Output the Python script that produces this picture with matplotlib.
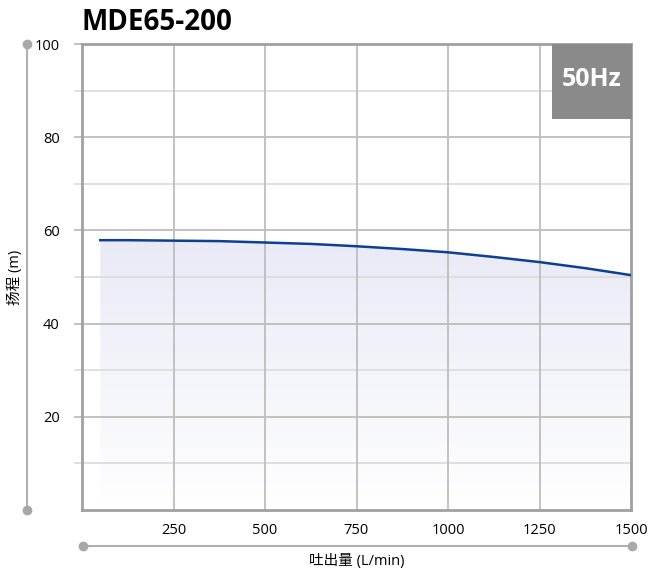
import numpy as np
import matplotlib.pyplot as plt
from matplotlib.patches import Rectangle
from matplotlib.lines import Line2D
from matplotlib.colors import LinearSegmentedColormap

plt.rcParams['font.family'] = ['Open Sans', 'Noto Sans CJK SC', 'DejaVu Sans']

# flow (L/min) vs head (m)
flow = [50, 125, 250, 375, 500, 625, 750, 875, 1000, 1125, 1250, 1375, 1500]
head = [57.9, 57.9, 57.8, 57.7, 57.4, 57.1, 56.6, 56.0, 55.3, 54.3, 53.2, 51.9, 50.4]
xticks = [250, 500, 750, 1000, 1250, 1500]
yticks = [20, 40, 60, 80, 100]

fig = plt.figure(figsize=(6.48, 5.70), dpi=100)
W, H = 648, 570
ax = fig.add_axes([82 / W, 1 - 510 / H, (631 - 82) / W, (510 - 44) / H])
ax.set_xlim(0, 1500)
ax.set_ylim(0, 100)

# grid
for y in [10, 30, 50, 70, 90]:
    ax.axhline(y, color='#dddddd', lw=1.3, zorder=1)
for y in yticks[:-1]:
    ax.axhline(y, color='#bdbdbd', lw=1.3, zorder=1)
for x in xticks[:-1]:
    ax.axvline(x, color='#bdbdbd', lw=1.3, zorder=1)

# gradient fill under curve (kept beneath the grid)
poly = ax.fill_between(flow, head, 0, color='none', zorder=0.5)
grad = np.linspace(0, 1, 256).reshape(-1, 1)
cmap = LinearSegmentedColormap.from_list('g', ['#ffffff', '#e9eaf6'])
img = ax.imshow(grad, extent=[0, 1500, 0, max(head)], origin='lower',
                cmap=cmap, aspect='auto', zorder=0.5)
img.set_clip_path(poly.get_paths()[0], transform=ax.transData)
ax.plot(flow, head, color='#0d3f94', lw=1.8, zorder=3)

for s in ax.spines.values():
    s.set_color('#a0a0a0')
    s.set_linewidth(2)
ax.set_xticks(xticks)
ax.set_yticks(yticks)
ax.tick_params(axis='x', length=0, pad=9, labelsize=10.5)
ax.tick_params(axis='y', which='both', length=0, pad=16, labelsize=10.5)

# left tick extensions
for y in [10, 20, 30, 40, 50, 60, 70, 80, 90, 100]:
    col = '#bdbdbd' if y % 20 == 0 else '#dddddd'
    ax.plot([-0.013 * 1500, 0], [y, y], color=col, lw=1.3, clip_on=False, zorder=1)

# outer axis lines with dots
fig.add_artist(Line2D([27 / W, 27 / W], [1 - 44 / H, 1 - 510 / H], color='#b0b0b0', lw=1.5))
fig.add_artist(Line2D([27 / W, 27 / W], [1 - 44 / H, 1 - 510 / H], color='#a8a8a8', lw=0,
                      marker='o', ms=6))
fig.add_artist(Line2D([83 / W, 632 / W], [1 - 546 / H, 1 - 546 / H], color='#b0b0b0', lw=1.5))
fig.add_artist(Line2D([83 / W, 632 / W], [1 - 546 / H, 1 - 546 / H], color='#a8a8a8', lw=0,
                      marker='o', ms=6))

fig.text(15 / W, 1 - 277 / H, '扬程 (m)', rotation=90, ha='center', va='center', fontsize=10.5)
fig.text(357 / W, 1 - 561 / H, '吐出量 (L/min)', ha='center', va='center', fontsize=10.5)
fig.text(81 / W, 1 - 23 / H, 'MDE65-200', fontsize=20, fontweight='bold', ha='left', va='center')

# 50Hz badge
fig.add_artist(Rectangle((552 / W, 1 - 119 / H), 80 / W, 75 / H, transform=fig.transFigure,
                         facecolor='#8a8a8a', edgecolor='none', zorder=5))
fig.text(592 / W, 1 - 80 / H, '50Hz', color='white', fontsize=18, fontweight='bold',
         ha='center', va='center', zorder=6)

fig.savefig('out.png', dpi=100)
